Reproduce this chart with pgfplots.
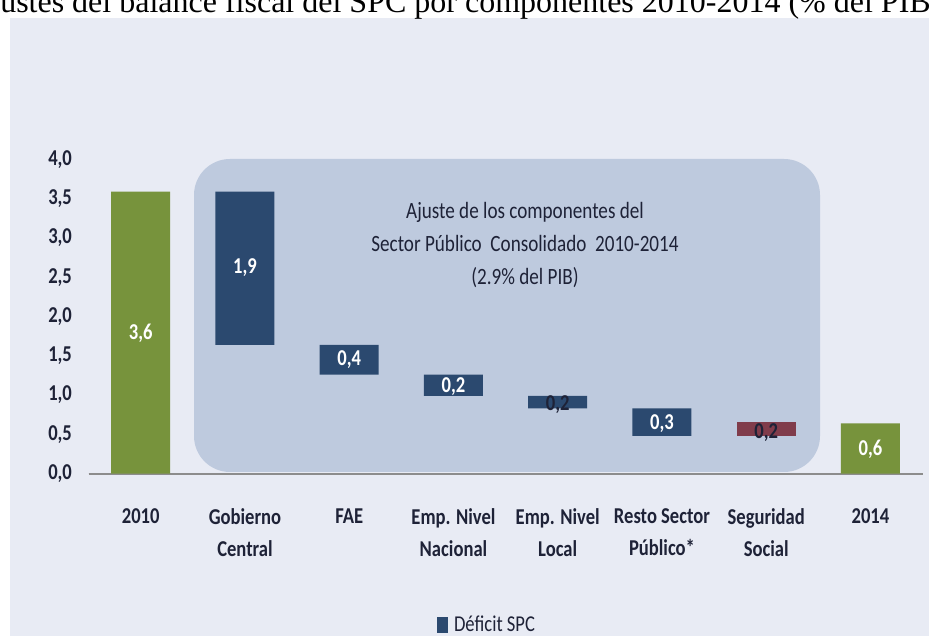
\documentclass[border=0pt]{standalone}
\usepackage{pgfplots}
\pgfplotsset{compat=1.18}
\usepackage{fontspec}
\setmainfont{Carlito}[FakeStretch=0.82]
\newfontfamily\titlefont{Liberation Serif}
\definecolor{bg}{RGB}{232,235,244}
\definecolor{boxc}{RGB}{190,202,222}
\definecolor{navyc}{RGB}{43,73,111}
\definecolor{olivec}{RGB}{119,147,60}
\definecolor{winec}{RGB}{128,60,75}
\definecolor{axgray}{RGB}{140,140,140}
\definecolor{txt}{RGB}{30,34,55}
\newcommand{\lblfont}{\bfseries\fontsize{17pt}{20pt}\selectfont}
\begin{document}
\begin{tikzpicture}[x=0.75pt,y=0.75pt]
\path[use as bounding box] (0,0) rectangle (929,636);
\clip (0,0) rectangle (929,636);
\fill[white] (0,0) rectangle (929,636);
\fill[bg] (10,0) rectangle (929,618);
\node[anchor=base west, inner sep=0] at (0,623) {\titlefont\fontsize{24pt}{28pt}\selectfont\llap{Aj}ustes del balance fiscal del SPC por componentes 2010-2014 (\% del PIB)};
\fill[boxc, rounded corners=27pt] (194,164) rectangle (820,477);
\node[align=center, text=txt, font=\fontsize{17.5pt}{25pt}\selectfont] at (525,391) {Ajuste de los componentes del\\Sector Público\ \ Consolidado\ \ 2010-2014\\(2.9\% del PIB)};
\begin{axis}[
  at={(85,207)}, anchor=south west,
  scale only axis, width=625.5pt, height=235.5pt,
  xmin=-0.5, xmax=7.5, ymin=0, ymax=4,
  ybar stacked, bar width=44.25pt,
  axis x line*=bottom, axis y line*=left,
  y axis line style={draw=none},
  x axis line style={draw=axgray, line width=1.5pt},
  major tick length=0pt,
  xtick={0,...,7},
  xticklabels={2010, Gobierno\\Central, FAE, Emp. Nivel\\Nacional, Emp. Nivel\\Local, Resto Sector\\Público*, Seguridad\\Social, 2014},
  xticklabel style={align=center, text=txt, anchor=north, yshift=-23pt, font=\bfseries\fontsize{17pt}{23.5pt}\selectfont},
  ytick={0,0.5,1,1.5,2,2.5,3,3.5,4},
  yticklabels={{0,0},{0,5},{1,0},{1,5},{2,0},{2,5},{3,0},{3,5},{4,0}},
  yticklabel style={text=txt, anchor=east, xshift=-9pt, font=\bfseries\fontsize{17pt}{20pt}\selectfont},
  legend style={at={(0.478,-0.481)}, anchor=center, draw=none, fill=none, column sep=3pt, font=\fontsize{17pt}{20pt}\selectfont, text=txt},
  clip=false,
]
\addplot[draw=none, fill=none, forget plot] coordinates {(0,0) (1,1.64) (2,1.26) (3,0.99) (4,0.83) (5,0.48) (6,0.48) (7,0)};
\addplot[draw=none, fill=navyc, forget plot] coordinates {(0,0) (1,1.95) (2,0.38) (3,0.27) (4,0.16) (5,0.35) (6,0) (7,0)};
\addplot[draw=none, fill=winec, forget plot] coordinates {(0,0) (1,0) (2,0) (3,0) (4,0) (5,0) (6,0.17) (7,0)};
\addplot[draw=none, fill=olivec, forget plot] coordinates {(0,3.59) (1,0) (2,0) (3,0) (4,0) (5,0) (6,0) (7,0.64)};
\addlegendimage{legend image code/.code={\fill[navyc] (0pt,-5.5pt) rectangle (7.5pt,5.5pt);}}
\addlegendentry{Déficit SPC}
\draw[axgray, line width=1.5pt] (axis cs:-0.5,0) -- (axis cs:7.5,0);
\coordinate (l0) at (axis cs:0,1.79);
\coordinate (l1) at (axis cs:1,2.62);
\coordinate (l2) at (axis cs:2,1.45);
\coordinate (l3) at (axis cs:3,1.11);
\coordinate (l4) at (axis cs:4,0.88);
\coordinate (l5) at (axis cs:5,0.64);
\coordinate (l6) at (axis cs:6,0.52);
\coordinate (l7) at (axis cs:7,0.31);
\end{axis}
\node[text=white, font=\lblfont] at (l0) {3,6};
\node[text=white, font=\lblfont] at (l1) {1,9};
\node[text=white, font=\lblfont] at (l2) {0,4};
\node[text=white, font=\lblfont] at (l3) {0,2};
\node[text=txt, font=\lblfont] at (l4) {0,2};
\node[text=white, font=\lblfont] at (l5) {0,3};
\node[text=txt, font=\lblfont] at (l6) {0,2};
\node[text=white, font=\lblfont] at (l7) {0,6};
\end{tikzpicture}
\end{document}
